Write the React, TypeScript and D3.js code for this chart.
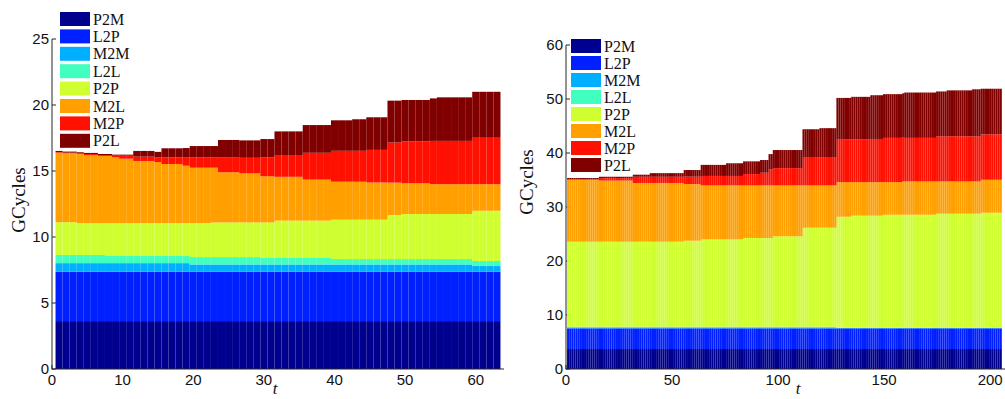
import * as d3 from 'd3'

// stack order, bottom to top
const keys = ['P2M', 'L2P', 'M2M', 'L2L', 'P2P', 'M2L', 'M2P', 'P2L']
const colors = ['#00008f', '#0020ff', '#00afff', '#40ffbf', '#cfff30', '#ff9f00', '#ff1000', '#800000']

// left panel, t = 1..63 (GCycles per component)
const leftP2M = [
  3.63, 3.63, 3.63, 3.63, 3.63, 3.63, 3.63, 3.63, 3.63, 3.63,
  3.63, 3.63, 3.63, 3.63, 3.63, 3.63, 3.63, 3.63, 3.63, 3.63,
  3.63, 3.63, 3.63, 3.63, 3.63, 3.63, 3.63, 3.63, 3.63, 3.63,
  3.63, 3.63, 3.63, 3.63, 3.63, 3.63, 3.63, 3.63, 3.63, 3.63,
  3.63, 3.63, 3.63, 3.63, 3.63, 3.63, 3.63, 3.63, 3.63, 3.63,
  3.63, 3.63, 3.63, 3.63, 3.63, 3.63, 3.63, 3.63, 3.63, 3.63,
  3.63, 3.63, 3.63,
]
const leftL2P = [
  3.74, 3.74, 3.74, 3.74, 3.74, 3.74, 3.74, 3.74, 3.74, 3.74,
  3.74, 3.74, 3.74, 3.74, 3.74, 3.74, 3.74, 3.74, 3.74, 3.74,
  3.74, 3.74, 3.74, 3.74, 3.74, 3.74, 3.74, 3.74, 3.74, 3.74,
  3.74, 3.74, 3.74, 3.74, 3.74, 3.74, 3.74, 3.74, 3.74, 3.74,
  3.74, 3.74, 3.74, 3.74, 3.74, 3.74, 3.74, 3.74, 3.74, 3.74,
  3.74, 3.74, 3.74, 3.74, 3.74, 3.74, 3.74, 3.74, 3.74, 3.74,
  3.74, 3.74, 3.74,
]
const leftM2M = [
  0.65, 0.65, 0.65, 0.65, 0.65, 0.65, 0.65, 0.65, 0.65, 0.65,
  0.65, 0.65, 0.65, 0.65, 0.65, 0.65, 0.65, 0.65, 0.65, 0.55,
  0.55, 0.55, 0.55, 0.55, 0.55, 0.55, 0.55, 0.55, 0.55, 0.55,
  0.55, 0.55, 0.55, 0.55, 0.55, 0.55, 0.55, 0.55, 0.55, 0.55,
  0.55, 0.55, 0.55, 0.55, 0.55, 0.55, 0.55, 0.55, 0.55, 0.55,
  0.55, 0.55, 0.55, 0.55, 0.55, 0.55, 0.55, 0.55, 0.55, 0.43,
  0.43, 0.43, 0.43,
]
const leftL2L = [
  0.62, 0.62, 0.62, 0.62, 0.62, 0.62, 0.62, 0.54, 0.54, 0.54,
  0.54, 0.54, 0.54, 0.54, 0.54, 0.54, 0.54, 0.54, 0.54, 0.56,
  0.56, 0.56, 0.56, 0.56, 0.56, 0.56, 0.56, 0.56, 0.56, 0.53,
  0.53, 0.53, 0.53, 0.53, 0.53, 0.53, 0.53, 0.53, 0.53, 0.41,
  0.41, 0.41, 0.41, 0.41, 0.41, 0.41, 0.41, 0.41, 0.41, 0.41,
  0.41, 0.41, 0.41, 0.41, 0.41, 0.41, 0.41, 0.41, 0.41, 0.38,
  0.38, 0.38, 0.38,
]
const leftP2P = [
  2.48, 2.48, 2.48, 2.41, 2.41, 2.41, 2.41, 2.49, 2.49, 2.49,
  2.49, 2.5, 2.5, 2.5, 2.5, 2.5, 2.5, 2.5, 2.5, 2.58,
  2.58, 2.58, 2.62, 2.62, 2.62, 2.62, 2.62, 2.62, 2.62, 2.65,
  2.65, 2.79, 2.79, 2.79, 2.79, 2.79, 2.79, 2.79, 2.79, 2.98,
  2.98, 2.98, 2.98, 2.98, 2.98, 2.98, 2.98, 3.34, 3.34, 3.41,
  3.41, 3.41, 3.41, 3.41, 3.41, 3.41, 3.41, 3.41, 3.41, 3.81,
  3.81, 3.81, 3.81,
]
const leftM2L = [
  5.27, 5.22, 5.22, 5.24, 5.16, 5.16, 5.09, 5.09, 4.99, 4.88,
  4.88, 4.7, 4.7, 4.7, 4.62, 4.47, 4.47, 4.47, 4.34, 4.19,
  4.19, 4.19, 4.15, 3.8, 3.8, 3.8, 3.72, 3.72, 3.72, 3.5,
  3.5, 3.32, 3.32, 3.32, 3.32, 3.11, 3.11, 3.11, 3.11, 2.88,
  2.88, 2.88, 2.88, 2.88, 2.82, 2.82, 2.82, 2.45, 2.45, 2.33,
  2.33, 2.33, 2.33, 2.26, 2.26, 2.26, 2.26, 2.26, 2.26, 2.01,
  2.01, 2.01, 2.01,
]
const leftM2P = [
  0.05, 0.05, 0.05, 0.05, 0.08, 0.08, 0.07, 0.07, 0.12, 0.23,
  0.23, 0.33, 0.33, 0.33, 0.34, 0.5, 0.5, 0.5, 0.65, 0.79,
  0.79, 0.79, 0.79, 1.12, 1.12, 1.12, 1.18, 1.18, 1.18, 1.44,
  1.44, 1.65, 1.65, 1.65, 1.65, 2.03, 2.03, 2.03, 2.03, 2.34,
  2.34, 2.34, 2.34, 2.34, 2.47, 2.47, 2.47, 3.04, 3.04, 3.17,
  3.17, 3.17, 3.17, 3.28, 3.28, 3.28, 3.28, 3.28, 3.28, 3.52,
  3.52, 3.52, 3.52,
]
const leftP2L = [
  0.08, 0.08, 0.08, 0.08, 0.08, 0.08, 0.08, 0.08, 0.08, 0.08,
  0.08, 0.43, 0.43, 0.43, 0.43, 0.69, 0.69, 0.69, 0.69, 0.85,
  0.85, 0.85, 0.85, 1.33, 1.33, 1.33, 1.32, 1.32, 1.32, 1.38,
  1.38, 1.79, 1.79, 1.79, 1.79, 2.1, 2.1, 2.1, 2.1, 2.31,
  2.31, 2.31, 2.39, 2.39, 2.47, 2.47, 2.47, 3.17, 3.17, 3.14,
  3.14, 3.14, 3.14, 3.22, 3.3, 3.3, 3.3, 3.3, 3.3, 3.48,
  3.48, 3.48, 3.48,
]

// right panel, t = 1..205
const rightP2M = [
  3.7, 3.7, 3.7, 3.7, 3.7, 3.7, 3.7, 3.7, 3.7, 3.7,
  3.7, 3.7, 3.7, 3.7, 3.7, 3.7, 3.7, 3.7, 3.7, 3.7,
  3.7, 3.7, 3.7, 3.7, 3.7, 3.7, 3.7, 3.7, 3.7, 3.7,
  3.7, 3.7, 3.7, 3.7, 3.7, 3.7, 3.7, 3.7, 3.7, 3.7,
  3.7, 3.7, 3.7, 3.7, 3.7, 3.7, 3.7, 3.7, 3.7, 3.7,
  3.7, 3.7, 3.7, 3.7, 3.7, 3.7, 3.7, 3.7, 3.7, 3.7,
  3.7, 3.7, 3.7, 3.7, 3.7, 3.7, 3.7, 3.7, 3.7, 3.7,
  3.7, 3.7, 3.7, 3.7, 3.7, 3.7, 3.7, 3.7, 3.7, 3.7,
  3.7, 3.7, 3.7, 3.7, 3.7, 3.7, 3.7, 3.7, 3.7, 3.7,
  3.7, 3.7, 3.7, 3.7, 3.7, 3.7, 3.7, 3.7, 3.7, 3.7,
  3.7, 3.7, 3.7, 3.7, 3.7, 3.7, 3.7, 3.7, 3.7, 3.7,
  3.7, 3.7, 3.7, 3.7, 3.7, 3.7, 3.7, 3.7, 3.7, 3.7,
  3.7, 3.7, 3.7, 3.7, 3.7, 3.7, 3.7, 3.7, 3.7, 3.7,
  3.7, 3.7, 3.7, 3.7, 3.7, 3.7, 3.7, 3.7, 3.7, 3.7,
  3.7, 3.7, 3.7, 3.7, 3.7, 3.7, 3.7, 3.7, 3.7, 3.7,
  3.7, 3.7, 3.7, 3.7, 3.7, 3.7, 3.7, 3.7, 3.7, 3.7,
  3.7, 3.7, 3.7, 3.7, 3.7, 3.7, 3.7, 3.7, 3.7, 3.7,
  3.7, 3.7, 3.7, 3.7, 3.7, 3.7, 3.7, 3.7, 3.7, 3.7,
  3.7, 3.7, 3.7, 3.7, 3.7, 3.7, 3.7, 3.7, 3.7, 3.7,
  3.7, 3.7, 3.7, 3.7, 3.7, 3.7, 3.7, 3.7, 3.7, 3.7,
  3.7, 3.7, 3.7, 3.7, 3.7,
]
const rightL2P = [
  3.83, 3.83, 3.83, 3.83, 3.83, 3.83, 3.83, 3.83, 3.83, 3.83,
  3.83, 3.83, 3.83, 3.83, 3.83, 3.83, 3.83, 3.83, 3.83, 3.83,
  3.83, 3.83, 3.83, 3.83, 3.83, 3.83, 3.83, 3.83, 3.83, 3.83,
  3.83, 3.83, 3.83, 3.83, 3.83, 3.83, 3.83, 3.83, 3.83, 3.83,
  3.83, 3.83, 3.83, 3.83, 3.83, 3.83, 3.83, 3.83, 3.83, 3.83,
  3.83, 3.83, 3.83, 3.83, 3.83, 3.83, 3.83, 3.83, 3.83, 3.83,
  3.83, 3.83, 3.83, 3.83, 3.83, 3.83, 3.83, 3.83, 3.83, 3.83,
  3.83, 3.83, 3.83, 3.83, 3.83, 3.83, 3.83, 3.83, 3.83, 3.83,
  3.83, 3.83, 3.83, 3.83, 3.83, 3.83, 3.83, 3.83, 3.83, 3.83,
  3.83, 3.83, 3.83, 3.83, 3.83, 3.83, 3.83, 3.83, 3.83, 3.83,
  3.83, 3.83, 3.83, 3.83, 3.83, 3.83, 3.83, 3.83, 3.83, 3.83,
  3.83, 3.83, 3.83, 3.83, 3.83, 3.83, 3.83, 3.83, 3.83, 3.83,
  3.83, 3.83, 3.83, 3.83, 3.83, 3.83, 3.83, 3.83, 3.83, 3.83,
  3.83, 3.83, 3.83, 3.83, 3.83, 3.83, 3.83, 3.83, 3.83, 3.83,
  3.83, 3.83, 3.83, 3.83, 3.83, 3.83, 3.83, 3.83, 3.83, 3.83,
  3.83, 3.83, 3.83, 3.83, 3.83, 3.83, 3.83, 3.83, 3.83, 3.83,
  3.83, 3.83, 3.83, 3.83, 3.83, 3.83, 3.83, 3.83, 3.83, 3.83,
  3.83, 3.83, 3.83, 3.83, 3.83, 3.83, 3.83, 3.83, 3.83, 3.83,
  3.83, 3.83, 3.83, 3.83, 3.83, 3.83, 3.83, 3.83, 3.83, 3.83,
  3.83, 3.83, 3.83, 3.83, 3.83, 3.83, 3.83, 3.83, 3.83, 3.83,
  3.83, 3.83, 3.83, 3.83, 3.83,
]
const rightM2M = [
  0.18, 0.18, 0.18, 0.18, 0.18, 0.18, 0.18, 0.18, 0.18, 0.18,
  0.18, 0.18, 0.18, 0.18, 0.18, 0.18, 0.18, 0.18, 0.18, 0.18,
  0.18, 0.18, 0.18, 0.18, 0.18, 0.18, 0.18, 0.18, 0.18, 0.18,
  0.18, 0.18, 0.18, 0.18, 0.18, 0.18, 0.18, 0.18, 0.18, 0.18,
  0.18, 0.18, 0.18, 0.18, 0.18, 0.18, 0.18, 0.18, 0.18, 0.18,
  0.18, 0.18, 0.18, 0.18, 0.18, 0.18, 0.18, 0.18, 0.18, 0.18,
  0.18, 0.18, 0.18, 0.18, 0.18, 0.18, 0.18, 0.18, 0.18, 0.18,
  0.18, 0.18, 0.18, 0.18, 0.18, 0.18, 0.18, 0.18, 0.18, 0.18,
  0.18, 0.18, 0.18, 0.18, 0.18, 0.18, 0.18, 0.18, 0.18, 0.18,
  0.18, 0.18, 0.18, 0.18, 0.18, 0.18, 0.18, 0.18, 0.18, 0.18,
  0.18, 0.18, 0.18, 0.18, 0.18, 0.18, 0.18, 0.18, 0.18, 0.18,
  0.18, 0.18, 0.18, 0.18, 0.18, 0.18, 0.18, 0.18, 0.18, 0.18,
  0.18, 0.18, 0.18, 0.18, 0.18, 0.18, 0.18, 0.08, 0.08, 0.08,
  0.08, 0.08, 0.08, 0.08, 0.08, 0.08, 0.08, 0.08, 0.08, 0.08,
  0.08, 0.08, 0.08, 0.08, 0.08, 0.08, 0.08, 0.08, 0.08, 0.08,
  0.08, 0.08, 0.08, 0.08, 0.08, 0.08, 0.08, 0.08, 0.08, 0.08,
  0.08, 0.08, 0.08, 0.08, 0.08, 0.08, 0.08, 0.08, 0.08, 0.08,
  0.08, 0.08, 0.08, 0.08, 0.08, 0.08, 0.08, 0.08, 0.08, 0.08,
  0.08, 0.08, 0.08, 0.08, 0.08, 0.08, 0.08, 0.08, 0.08, 0.08,
  0.08, 0.08, 0.08, 0.08, 0.08, 0.08, 0.08, 0.08, 0.08, 0.08,
  0.08, 0.08, 0.08, 0.08, 0.08,
]
const rightL2L = [
  0.12, 0.12, 0.12, 0.12, 0.12, 0.12, 0.12, 0.12, 0.12, 0.12,
  0.12, 0.12, 0.12, 0.12, 0.12, 0.12, 0.12, 0.12, 0.12, 0.12,
  0.12, 0.12, 0.12, 0.12, 0.12, 0.12, 0.12, 0.12, 0.12, 0.12,
  0.12, 0.12, 0.12, 0.12, 0.12, 0.12, 0.12, 0.12, 0.12, 0.12,
  0.12, 0.12, 0.12, 0.12, 0.12, 0.12, 0.12, 0.12, 0.12, 0.12,
  0.12, 0.12, 0.12, 0.12, 0.12, 0.12, 0.12, 0.12, 0.12, 0.12,
  0.12, 0.12, 0.12, 0.12, 0.12, 0.12, 0.12, 0.12, 0.12, 0.12,
  0.12, 0.12, 0.12, 0.12, 0.12, 0.12, 0.12, 0.12, 0.12, 0.12,
  0.12, 0.12, 0.12, 0.12, 0.12, 0.12, 0.12, 0.12, 0.12, 0.12,
  0.12, 0.12, 0.12, 0.12, 0.12, 0.12, 0.12, 0.12, 0.12, 0.12,
  0.12, 0.12, 0.12, 0.12, 0.12, 0.12, 0.12, 0.12, 0.12, 0.12,
  0.12, 0.12, 0.12, 0.12, 0.12, 0.12, 0.12, 0.12, 0.12, 0.12,
  0.12, 0.12, 0.12, 0.12, 0.12, 0.12, 0.12, 0.04, 0.04, 0.04,
  0.04, 0.04, 0.04, 0.04, 0.04, 0.04, 0.04, 0.04, 0.04, 0.04,
  0.04, 0.04, 0.04, 0.04, 0.04, 0.04, 0.04, 0.04, 0.04, 0.04,
  0.04, 0.04, 0.04, 0.04, 0.04, 0.04, 0.04, 0.04, 0.04, 0.04,
  0.04, 0.04, 0.04, 0.04, 0.04, 0.04, 0.04, 0.04, 0.04, 0.04,
  0.04, 0.04, 0.04, 0.04, 0.04, 0.04, 0.04, 0.04, 0.04, 0.04,
  0.04, 0.04, 0.04, 0.04, 0.04, 0.04, 0.04, 0.04, 0.04, 0.04,
  0.04, 0.04, 0.04, 0.04, 0.04, 0.04, 0.04, 0.04, 0.04, 0.04,
  0.04, 0.04, 0.04, 0.04, 0.04,
]
const rightP2P = [
  15.74, 15.74, 15.74, 15.74, 15.74, 15.74, 15.74, 15.74, 15.74, 15.74,
  15.74, 15.74, 15.74, 15.74, 15.74, 15.74, 15.74, 15.74, 15.74, 15.74,
  15.74, 15.74, 15.74, 15.74, 15.74, 15.74, 15.74, 15.74, 15.74, 15.74,
  15.74, 15.74, 15.74, 15.74, 15.74, 15.74, 15.74, 15.74, 15.74, 15.74,
  15.74, 15.74, 15.74, 15.74, 15.74, 15.74, 15.74, 15.74, 15.74, 15.74,
  15.74, 15.74, 15.74, 15.74, 15.74, 15.93, 15.93, 15.93, 15.93, 15.93,
  15.93, 15.93, 15.93, 16.17, 16.17, 16.17, 16.17, 16.17, 16.17, 16.17,
  16.17, 16.17, 16.17, 16.17, 16.17, 16.17, 16.17, 16.17, 16.17, 16.17,
  16.17, 16.17, 16.17, 16.43, 16.43, 16.43, 16.43, 16.43, 16.43, 16.43,
  16.43, 16.43, 16.43, 16.43, 16.43, 16.43, 16.43, 16.74, 16.74, 16.74,
  16.74, 16.74, 16.74, 16.74, 16.74, 16.74, 16.74, 16.74, 16.74, 16.74,
  16.74, 18.34, 18.34, 18.34, 18.34, 18.34, 18.34, 18.34, 18.34, 18.34,
  18.34, 18.34, 18.34, 18.34, 18.34, 18.34, 18.34, 20.55, 20.55, 20.55,
  20.55, 20.55, 20.55, 20.55, 20.75, 20.75, 20.75, 20.75, 20.75, 20.75,
  20.75, 20.75, 20.75, 20.75, 20.75, 20.75, 20.75, 20.75, 20.75, 20.92,
  20.92, 20.92, 20.92, 20.92, 20.92, 20.92, 20.92, 20.92, 20.92, 20.92,
  20.92, 20.92, 20.92, 20.92, 20.92, 20.92, 20.92, 20.92, 20.92, 20.92,
  20.92, 20.92, 20.92, 20.92, 21.11, 21.11, 21.11, 21.11, 21.11, 21.11,
  21.11, 21.11, 21.11, 21.11, 21.11, 21.11, 21.11, 21.11, 21.11, 21.11,
  21.11, 21.11, 21.11, 21.11, 21.11, 21.29, 21.29, 21.29, 21.29, 21.29,
  21.29, 21.29, 21.29, 21.29, 21.29,
]
const rightM2L = [
  11.48, 11.48, 11.48, 11.48, 11.48, 11.48, 11.48, 11.48, 11.48, 11.48,
  11.48, 11.48, 11.48, 11.48, 11.48, 11.33, 11.33, 11.33, 11.33, 11.33,
  11.33, 11.33, 11.33, 11.33, 11.33, 11.33, 11.33, 11.33, 11.33, 11.33,
  11.33, 10.88, 10.88, 10.88, 10.88, 10.88, 10.88, 10.88, 10.88, 10.88,
  10.88, 10.88, 10.88, 10.88, 10.88, 10.88, 10.88, 10.88, 10.88, 10.88,
  10.88, 10.88, 10.88, 10.88, 10.88, 10.49, 10.49, 10.49, 10.49, 10.49,
  10.49, 10.49, 10.49, 10.0, 10.0, 10.0, 10.0, 10.0, 10.0, 10.0,
  10.0, 10.0, 10.0, 10.0, 10.0, 10.0, 10.0, 10.0, 10.0, 10.0,
  10.0, 10.0, 10.0, 9.74, 9.74, 9.74, 9.74, 9.74, 9.74, 9.74,
  9.74, 9.74, 9.74, 9.74, 9.74, 9.74, 9.74, 9.43, 9.43, 9.43,
  9.43, 9.43, 9.43, 9.43, 9.43, 9.43, 9.43, 9.43, 9.43, 9.43,
  9.43, 7.83, 7.83, 7.83, 7.83, 7.83, 7.83, 7.83, 7.83, 7.83,
  7.83, 7.83, 7.83, 7.83, 7.83, 7.83, 7.83, 6.4, 6.4, 6.4,
  6.4, 6.4, 6.4, 6.4, 6.2, 6.2, 6.2, 6.2, 6.2, 6.2,
  6.2, 6.2, 6.2, 6.2, 6.2, 6.2, 6.2, 6.2, 6.2, 6.03,
  6.03, 6.03, 6.03, 6.03, 6.03, 6.03, 6.03, 6.03, 6.18, 6.18,
  6.18, 6.18, 6.18, 6.18, 6.18, 6.18, 6.18, 6.18, 6.18, 6.18,
  6.18, 6.18, 6.18, 6.18, 5.99, 5.99, 5.99, 5.99, 5.99, 5.99,
  5.99, 5.99, 5.99, 5.99, 5.99, 5.99, 5.99, 5.99, 5.99, 5.99,
  5.99, 5.99, 5.99, 5.99, 5.99, 6.11, 6.11, 6.11, 6.11, 6.11,
  6.11, 6.11, 6.11, 6.11, 6.11,
]
const rightM2P = [
  0.07, 0.07, 0.07, 0.07, 0.07, 0.07, 0.07, 0.07, 0.07, 0.07,
  0.07, 0.07, 0.07, 0.07, 0.07, 0.45, 0.45, 0.45, 0.45, 0.45,
  0.45, 0.45, 0.45, 0.45, 0.45, 0.45, 0.45, 0.45, 0.45, 0.45,
  0.45, 1.15, 1.15, 1.15, 1.15, 1.15, 1.15, 1.15, 1.15, 1.15,
  1.15, 1.15, 1.15, 1.15, 1.15, 1.15, 1.15, 1.15, 1.15, 1.15,
  1.15, 1.15, 1.15, 1.15, 1.15, 1.37, 1.37, 1.37, 1.37, 1.37,
  1.37, 1.37, 1.37, 1.75, 1.75, 1.75, 1.75, 1.75, 1.75, 1.75,
  1.75, 1.75, 1.75, 1.75, 1.75, 1.75, 1.75, 1.75, 1.75, 1.75,
  1.75, 1.75, 1.75, 2.1, 2.1, 2.1, 2.1, 2.1, 2.1, 2.1,
  2.1, 2.35, 2.35, 2.35, 2.35, 3.0, 3.0, 3.2, 3.2, 3.2,
  3.2, 3.2, 3.2, 3.2, 3.2, 3.2, 3.2, 3.2, 3.2, 3.2,
  3.2, 5.26, 5.26, 5.26, 5.26, 5.26, 5.26, 5.26, 5.26, 5.26,
  5.26, 5.26, 5.26, 5.26, 5.26, 5.26, 5.26, 7.9, 7.9, 7.9,
  7.9, 7.9, 7.9, 7.9, 7.9, 7.9, 7.9, 7.9, 7.9, 7.9,
  7.9, 7.9, 7.9, 8.0, 8.0, 8.0, 8.0, 8.0, 8.0, 8.2,
  8.2, 8.2, 8.2, 8.2, 8.2, 8.2, 8.2, 8.2, 8.2, 8.05,
  8.05, 8.05, 8.05, 8.05, 8.05, 8.05, 8.05, 8.05, 8.05, 8.05,
  8.05, 8.05, 8.05, 8.05, 8.35, 8.35, 8.35, 8.35, 8.35, 8.35,
  8.35, 8.35, 8.35, 8.35, 8.35, 8.35, 8.35, 8.35, 8.35, 8.35,
  8.35, 8.35, 8.35, 8.35, 8.35, 8.4, 8.4, 8.4, 8.4, 8.4,
  8.4, 8.4, 8.4, 8.4, 8.4,
]
const rightP2L = [
  0.25, 0.25, 0.25, 0.25, 0.25, 0.25, 0.25, 0.25, 0.25, 0.25,
  0.25, 0.25, 0.25, 0.25, 0.25, 0.25, 0.25, 0.25, 0.25, 0.25,
  0.25, 0.25, 0.25, 0.25, 0.25, 0.25, 0.25, 0.25, 0.25, 0.25,
  0.25, 0.38, 0.38, 0.38, 0.38, 0.38, 0.38, 0.38, 0.38, 0.67,
  0.67, 0.67, 0.67, 0.67, 0.67, 0.67, 0.67, 0.67, 0.67, 0.67,
  0.67, 0.67, 0.67, 0.67, 0.67, 1.23, 1.23, 1.23, 1.23, 1.23,
  1.23, 1.23, 1.23, 2.05, 2.05, 2.05, 2.05, 2.05, 2.05, 2.05,
  2.05, 2.05, 2.05, 2.05, 2.05, 2.35, 2.35, 2.35, 2.35, 2.35,
  2.35, 2.35, 2.35, 2.35, 2.35, 2.35, 2.35, 2.35, 2.35, 2.35,
  2.35, 2.35, 2.35, 2.35, 2.35, 2.8, 2.8, 3.35, 3.35, 3.35,
  3.35, 3.35, 3.35, 3.35, 3.35, 3.35, 3.35, 3.35, 3.35, 3.35,
  3.35, 5.14, 5.14, 5.14, 5.14, 5.14, 5.14, 5.14, 5.14, 5.34,
  5.34, 5.34, 5.34, 5.34, 5.34, 5.34, 5.34, 7.7, 7.7, 7.7,
  7.7, 7.7, 7.7, 7.7, 7.9, 7.9, 7.9, 7.9, 7.9, 7.9,
  7.9, 7.9, 7.9, 8.1, 8.1, 8.1, 8.1, 8.1, 8.1, 8.1,
  8.1, 8.1, 8.1, 8.1, 8.1, 8.1, 8.1, 8.1, 8.1, 8.4,
  8.4, 8.4, 8.4, 8.4, 8.4, 8.4, 8.4, 8.4, 8.4, 8.4,
  8.4, 8.4, 8.4, 8.4, 8.3, 8.3, 8.3, 8.3, 8.3, 8.5,
  8.5, 8.5, 8.5, 8.5, 8.5, 8.5, 8.5, 8.5, 8.5, 8.5,
  8.5, 8.7, 8.7, 8.7, 8.7, 8.45, 8.45, 8.45, 8.45, 8.45,
  8.45, 8.45, 8.45, 8.45, 8.45,
]

const leftXTicks = [0, 10, 20, 30, 40, 50, 60]
const leftYTicks = [0, 5, 10, 15, 20, 25]
const rightXTicks = [0, 50, 100, 150, 200]
const rightYTicks = [0, 10, 20, 30, 40, 50, 60]

const sans = 'Liberation Sans, Arial, sans-serif'
const serif = 'Liberation Serif, Times New Roman, serif'

function Panel({ series, xMax, yMax, xTicks, yTicks, xRange, yRange, legend, yLabelPos, tLabelX }: any) {
  const rows = series[0].map((_: number, i: number) => {
    const r: any = { t: i + 1 }
    keys.forEach((k, j) => (r[k] = series[j][i]))
    return r
  })
  const layers = d3.stack().keys(keys)(rows)

  const x = d3.scaleLinear().domain([0, xMax]).range(xRange)
  const y = d3.scaleLinear().domain([0, yMax]).range(yRange)
  const [x0, x1] = xRange
  const [y0, y1] = yRange

  return (
    <g>
      {/* ticks sit under the bars, like matlab's default layer */}
      {yTicks.map((v: number) => (
        <line key={'yt' + v} x1={x0} x2={x0 + 4} y1={y(v)} y2={y(v)} stroke="#262626" />
      ))}
      {xTicks.map((v: number) => (
        <line key={'xt' + v} x1={x(v)} x2={x(v)} y1={y0} y2={y0 - 4} stroke="#262626" />
      ))}
      {layers.map((layer, j) => (
        <g key={keys[j]} fill={colors[j]}>
          {layer.map((d: any) => (
            <rect
              key={d.data.t}
              x={x(d.data.t - 0.5)}
              y={y(d[1])}
              width={x(d.data.t + 0.5) - x(d.data.t - 0.5)}
              height={y(d[0]) - y(d[1])}
            />
          ))}
        </g>
      ))}
      <line x1={x0} x2={x0} y1={y0 + 0.5} y2={y1} stroke="#262626" />
      <line x1={x0} x2={x1} y1={y0} y2={y0} stroke="#262626" />
      {yTicks.map((v: number) => (
        <text key={'yl' + v} x={x0 - 3} y={y(v) + 5} textAnchor="end" fontFamily={sans} fontSize={15} fill="#111">
          {v}
        </text>
      ))}
      {xTicks.map((v: number) => (
        <text key={'xl' + v} x={x(v)} y={y0 + 16} textAnchor="middle" fontFamily={sans} fontSize={15} fill="#111">
          {v}
        </text>
      ))}
      <text
        transform={`translate(${yLabelPos[0]},${yLabelPos[1]}) rotate(-90)`}
        textAnchor="middle"
        fontFamily={serif}
        fontSize={19}
        fill="#111"
      >
        GCycles
      </text>
      <text x={tLabelX} y={394} textAnchor="middle" fontFamily={serif} fontStyle="italic" fontSize={17} fill="#111">
        t
      </text>
      {keys.map((k, j) => (
        <g key={'lg' + k} transform={`translate(${legend.x},${legend.y + j * legend.step})`}>
          <rect x={0} y={0} width={30} height={14} fill={colors[j]} />
          <text x={33} y={12.5} fontFamily={serif} fontSize={16} fill="#111">
            {k}
          </text>
        </g>
      ))}
    </g>
  )
}

export default function App() {
  return (
    <svg
      width={1005}
      height={399}
      style={{ position: 'absolute', left: 0, top: 0, background: '#fff' }}
    >
      <Panel
        series={[leftP2M, leftL2P, leftM2M, leftL2L, leftP2P, leftM2L, leftM2P, leftP2L]}
        xMax={64}
        yMax={25}
        xTicks={leftXTicks}
        yTicks={leftYTicks}
        xRange={[52, 504]}
        yRange={[369, 39]}
        legend={{ x: 60, y: 12, step: 17.4 }}
        yLabelPos={[25, 200]}
        tLabelX={275}
      />
      <Panel
        series={[rightP2M, rightL2P, rightM2M, rightL2L, rightP2P, rightM2L, rightM2P, rightP2L]}
        xMax={207}
        yMax={60}
        xTicks={rightXTicks}
        yTicks={rightYTicks}
        xRange={[566, 1005]}
        yRange={[369, 45]}
        legend={{ x: 571, y: 39, step: 17 }}
        yLabelPos={[533, 182]}
        tLabelX={798}
      />
    </svg>
  )
}
